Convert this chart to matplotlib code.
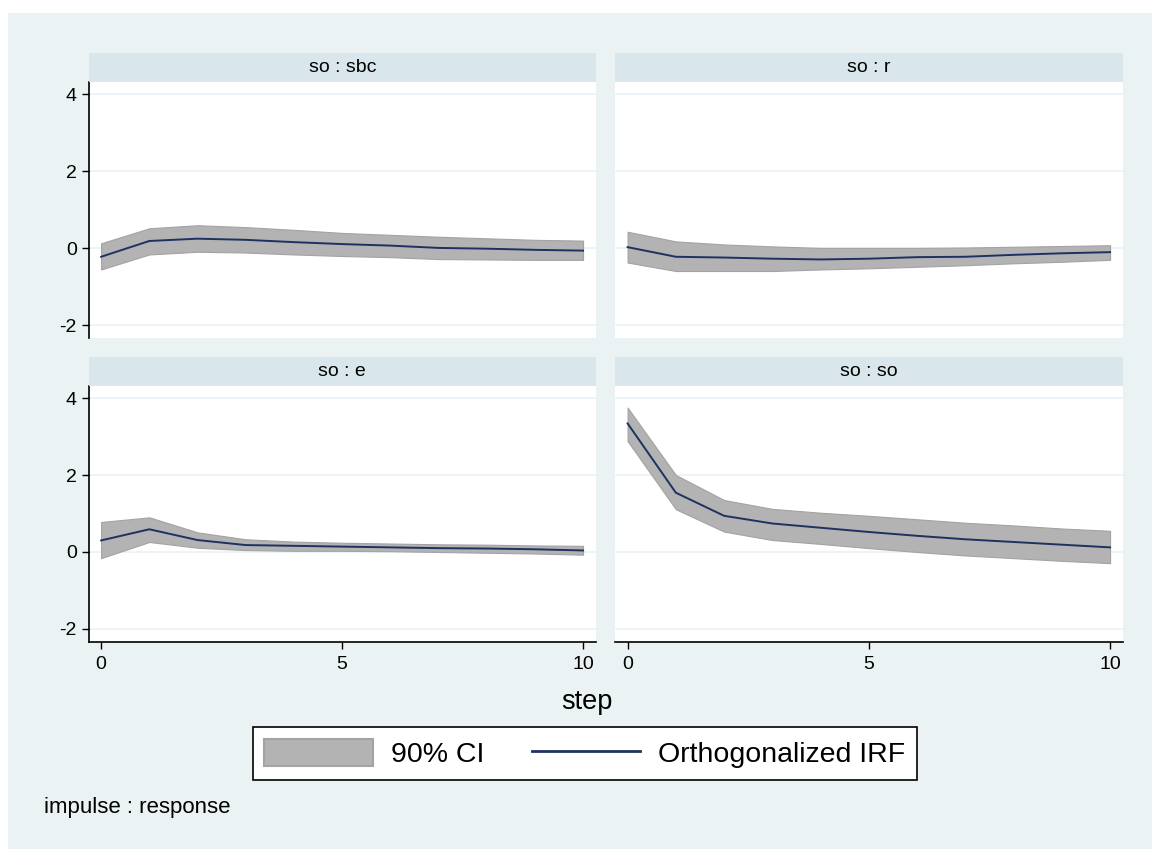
"""
Orthogonalized impulse responses to a shock in so, with 90% bands.
Four panels laid out like a Stata irf graph.
"""
import matplotlib
matplotlib.use("Agg")
from matplotlib import pyplot as plt
from matplotlib.patches import Rectangle, Patch
from matplotlib.lines import Line2D

steps = list(range(11))

sbc_irf = [-0.22, 0.19, 0.25, 0.22, 0.16, 0.11, 0.07, 0.01, -0.01, -0.04, -0.06]
sbc_hi = [0.13, 0.52, 0.60, 0.55, 0.48, 0.40, 0.35, 0.30, 0.26, 0.22, 0.20]
sbc_lo = [-0.55, -0.16, -0.09, -0.11, -0.16, -0.20, -0.23, -0.28, -0.29, -0.30, -0.30]

r_irf = [0.03, -0.22, -0.24, -0.27, -0.29, -0.27, -0.23, -0.22, -0.17, -0.13, -0.10]
r_hi = [0.43, 0.18, 0.10, 0.05, 0.01, 0.01, 0.01, 0.02, 0.04, 0.06, 0.08]
r_lo = [-0.37, -0.59, -0.59, -0.59, -0.55, -0.52, -0.48, -0.44, -0.39, -0.35, -0.30]

e_irf = [0.30, 0.59, 0.31, 0.18, 0.16, 0.14, 0.12, 0.10, 0.09, 0.07, 0.04]
e_hi = [0.78, 0.90, 0.51, 0.33, 0.27, 0.24, 0.22, 0.20, 0.19, 0.17, 0.16]
e_lo = [-0.16, 0.26, 0.11, 0.05, 0.03, 0.03, 0.02, 0.00, -0.02, -0.04, -0.07]

so_irf = [3.34, 1.54, 0.94, 0.74, 0.63, 0.52, 0.42, 0.33, 0.26, 0.19, 0.12]
so_hi = [3.75, 2.00, 1.35, 1.12, 1.02, 0.94, 0.85, 0.76, 0.69, 0.61, 0.55]
so_lo = [2.88, 1.11, 0.53, 0.31, 0.21, 0.10, 0.00, -0.09, -0.16, -0.23, -0.29]

panel_titles = ["so : sbc", "so : r", "so : e", "so : so"]
y_ticks = [-2, 0, 2, 4]
x_ticks = [0, 5, 10]

# stata s2color look
BG = "#eaf2f3"
STRIP = "#d9e6eb"
CI_FILL = "#b3b3b3"
CI_EDGE = "#a3a3a3"
NAVY = "#1e3160"

plt.rcParams["font.family"] = ["Liberation Sans", "DejaVu Sans"]
plt.rcParams["axes.unicode_minus"] = False

fig = plt.figure(figsize=(11.52, 8.49), dpi=100, facecolor="white")
fig.patches.append(Rectangle((8 / 1152, 0), 1, 1 - 13 / 849, transform=fig.transFigure,
                             facecolor=BG, edgecolor="none", zorder=-10))

# (left, width) per column, bottom per row; strips sit right on top
col_x = [(0.0769, 0.4405), (0.5339, 0.4410)]
row_y = [0.6019, 0.2442]
plot_h = 0.3015
strip_h = 0.0342

series = [(sbc_irf, sbc_lo, sbc_hi), (r_irf, r_lo, r_hi),
          (e_irf, e_lo, e_hi), (so_irf, so_lo, so_hi)]

for i, (irf, lo, hi) in enumerate(series):
    row, col = divmod(i, 2)
    x0, w = col_x[col]
    y0 = row_y[row]
    ax = fig.add_axes([x0, y0, w, plot_h])
    ax.set_facecolor("white")

    ax.fill_between(steps, lo, hi, facecolor=CI_FILL, edgecolor=CI_EDGE, linewidth=0.8, zorder=2)
    ax.plot(steps, irf, color=NAVY, linewidth=1.4, zorder=3)

    ax.set_xlim(-0.26, 10.27)
    ax.set_ylim(-2.33, 4.32)
    ax.set_yticks(y_ticks)
    ax.set_xticks(x_ticks)
    for yv in y_ticks:
        ax.axhline(yv, color=BG, linewidth=1.2, zorder=1)

    for side in ["top", "right", "left", "bottom"]:
        ax.spines[side].set_visible(False)
    ax.tick_params(axis="both", labelsize=14, length=5, width=1, color="black", pad=3.5)

    if col == 0:
        ax.spines["left"].set_visible(True)
        ax.spines["left"].set_linewidth(1.2)
    else:
        ax.tick_params(axis="y", left=False, labelleft=False)

    if row == 1:
        ax.spines["bottom"].set_visible(True)
        ax.spines["bottom"].set_linewidth(1.2)
        ax.tick_params(axis="x", pad=5)
    else:
        ax.tick_params(axis="x", bottom=False, labelbottom=False)

    strip = fig.add_axes([x0, y0 + plot_h, w, strip_h])
    strip.set_facecolor(STRIP)
    strip.set_xticks([])
    strip.set_yticks([])
    for side in strip.spines.values():
        side.set_visible(False)
    strip.text(0.5, 0.5, panel_titles[i], ha="center", va="center", fontsize=14,
               transform=strip.transAxes)

fig.text(587 / 1152, 1 - 702 / 849, "step", ha="center", va="center", fontsize=19.5)

handles = [Patch(facecolor=CI_FILL, edgecolor=CI_EDGE, linewidth=1.5),
           Line2D([0], [0], color=NAVY, linewidth=2)]
leg = fig.legend(handles, ["90% CI", "Orthogonalized IRF"], ncol=2, loc="center",
                 bbox_to_anchor=(585 / 1152, 1 - 753.5 / 849), fontsize=20.5,
                 frameon=True, fancybox=False, framealpha=1, edgecolor="black",
                 handlelength=3.82, handleheight=1.09, handletextpad=0.63,
                 columnspacing=1.65, borderpad=0.42)
leg.get_frame().set_linewidth(1.2)

fig.text(44 / 1152, 1 - 808 / 849, "impulse : response", ha="left", va="center", fontsize=16)

fig.savefig("out.png", dpi=100, facecolor=fig.get_facecolor())
